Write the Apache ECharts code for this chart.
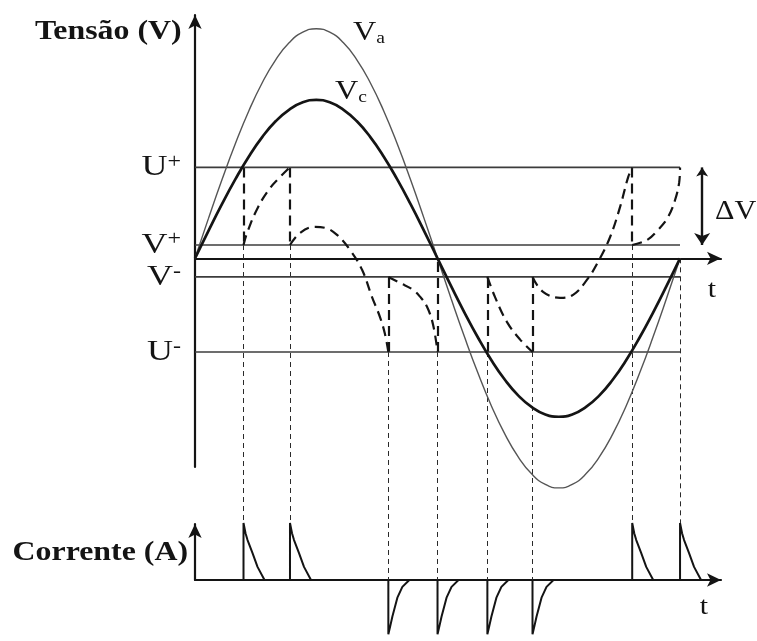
<!DOCTYPE html>
<html>
<head>
<meta charset="utf-8">
<script src="https://cdn.jsdelivr.net/npm/echarts@6/dist/echarts.min.js"></script>
<style>
  html, body { margin: 0; padding: 0; background: #ffffff; }
  #chart { width: 757px; height: 641px; }
</style>
</head>
<body>
<div id="chart"></div>
<script>
// Phase angle over one period (degrees)
const theta = [0, 10, 20, 30, 40, 50, 60, 70, 80, 90, 100, 110, 120, 130, 140, 150, 160, 170, 180,
               190, 200, 210, 220, 230, 240, 250, 260, 270, 280, 290, 300, 310, 320, 330, 340, 350, 360];
// Supply voltage Va
const va = [0, 1.74, 3.42, 5, 6.43, 7.66, 8.66, 9.4, 9.85, 10, 9.85, 9.4, 8.66, 7.66, 6.43, 5, 3.42, 1.74, 0,
            -1.74, -3.42, -5, -6.43, -7.66, -8.66, -9.4, -9.85, -10, -9.85, -9.4, -8.66, -7.66, -6.43, -5, -3.42, -1.74, 0];
// Capacitor voltage Vc
const vc = [0, 1.2, 2.36, 3.45, 4.44, 5.29, 5.98, 6.48, 6.8, 6.9, 6.8, 6.48, 5.98, 5.29, 4.44, 3.45, 2.36, 1.2, 0,
            -1.2, -2.36, -3.45, -4.44, -5.29, -5.98, -6.48, -6.8, -6.9, -6.8, -6.48, -5.98, -5.29, -4.44, -3.45, -2.36, -1.2, 0];

// Threshold levels
const levelNames = ['U', 'V', 'V', 'U'];
const levelSigns = ['+', '+', '-', '-'];
const levelValues = [3.96, 0.58, -0.81, -4.08];

// Dashed waveform between switching instants: [angle, voltage]
const segB = [[36, 0.58], [38.6, 1.1], [46.8, 2.23], [55.7, 3.06], [63.1, 3.54], [68.3, 3.85], [70.5, 3.96]];
const segC = [[70.5, 0.58], [78, 1.11], [89, 1.37], [96.5, 1.33], [105.4, 1.02], [115, 0.37],
              [124, -0.5], [131.4, -1.69], [137.3, -2.56], [141, -3.3], [143.5, -4.08]];
const segD = [[143.5, -0.81], [152.2, -1.07], [161.8, -1.37], [167, -1.67], [172.2, -2.11], [176.7, -2.89], [180, -4.08]];
const segF = [[217, -0.81], [222.7, -1.69], [231.6, -2.78], [241.3, -3.54], [250.5, -4.08]];
const segG = [[250.5, -0.81], [258.3, -1.46], [271, -1.72], [280.6, -1.59], [291, -0.93], [299.2, -0.15],
              [308.1, 0.93], [315.5, 2.24], [321.5, 3.54], [324.5, 3.96]];
const segH = [[324.5, 0.58], [335.6, 0.8], [343.7, 1.24], [351.1, 1.8], [356.3, 2.54], [359.3, 3.28], [360, 3.96]];
const dashedSegments = [segB, segC, segD, segF, segG, segH];

// Vertical jumps of the dashed waveform
const jumpTimes = [36, 70.5, 143.5, 180, 217, 250.5, 324.5];
const jumpFrom = [3.96, 3.96, -4.08, -4.08, -4.08, -4.08, 3.96];
const jumpTo = [0.58, 0.58, -0.81, 0, -0.81, -0.81, 0.58];

// Current pulses
const pulseTimes = [36, 70.5, 143.5, 180, 217, 250.5, 324.5, 360];
const pulseSign = [1, 1, -1, -1, -1, -1, 1, 1];
const guideStart = [0.58, 0.58, -4.08, -4.08, -4.08, -4.08, 0.58, 0];
const pulseDt = [0, 0, 1.5, 3, 6.7, 10.4, 15.6];
const posPulse = [0, 1, 0.82, 0.7, 0.47, 0.23, 0];
const negPulse = [0, -0.95, -0.8, -0.64, -0.31, -0.12, 0];

// Delta-V marker
const deltaT = 376.4;

const serif = "'Liberation Serif', 'Times New Roman', 'DejaVu Serif', serif";
const ink = '#141414';

const chart = echarts.init(document.getElementById('chart'), null, { renderer: 'canvas' });

function bareAxis(extra) {
  return Object.assign({
    type: 'value',
    axisTick: { show: false },
    axisLabel: { show: false },
    splitLine: { show: false },
    axisLine: {
      show: true, onZero: true,
      symbol: ['none', 'arrow'], symbolSize: [10, 14],
      lineStyle: { color: ink, width: 2.2 }
    }
  }, extra);
}

const series = [];

levelValues.forEach(function (v) {
  series.push({
    type: 'line', xAxisIndex: 0, yAxisIndex: 0, symbol: 'none', silent: true, clip: false,
    data: [[0, v], [360, v]],
    lineStyle: { color: '#3c3c3c', width: 1.7 }
  });
});

series.push({
  type: 'line', xAxisIndex: 0, yAxisIndex: 0, symbol: 'none', smooth: true, clip: false,
  data: theta.map(function (t, i) { return [t, va[i]]; }),
  lineStyle: { color: '#555555', width: 1.4 }
});
series.push({
  type: 'line', xAxisIndex: 0, yAxisIndex: 0, symbol: 'none', smooth: true, clip: false,
  data: theta.map(function (t, i) { return [t, vc[i]]; }),
  lineStyle: { color: ink, width: 2.7 }
});

dashedSegments.forEach(function (seg) {
  series.push({
    type: 'line', xAxisIndex: 0, yAxisIndex: 0, symbol: 'none', smooth: 0.4, clip: false,
    data: seg,
    lineStyle: { color: ink, width: 2.2, type: [10, 6] }
  });
});

series.push({
  type: 'lines', coordinateSystem: 'cartesian2d', xAxisIndex: 0, yAxisIndex: 0, clip: false,
  data: jumpTimes.map(function (t, i) { return { coords: [[t, jumpFrom[i]], [t, jumpTo[i]]] }; }),
  lineStyle: { color: ink, width: 2.2, type: [10, 6], opacity: 1 }
});

series.push({
  type: 'lines', coordinateSystem: 'cartesian2d', xAxisIndex: 0, yAxisIndex: 0, clip: false,
  symbol: ['arrow', 'arrow'], symbolSize: [9, 12],
  data: [{ coords: [[deltaT, levelValues[0]], [deltaT, levelValues[1]]] }],
  lineStyle: { color: ink, width: 2.4, opacity: 1 }
});

pulseTimes.forEach(function (t, i) {
  const shape = pulseSign[i] > 0 ? posPulse : negPulse;
  series.push({
    type: 'line', xAxisIndex: 1, yAxisIndex: 1, symbol: 'none', clip: false,
    data: pulseDt.map(function (d, k) { return [t + d, shape[k]]; }),
    lineStyle: { color: ink, width: 2 }
  });
});

const option = {
  animation: false,
  backgroundColor: '#ffffff',
  grid: [
    { left: 195, right: 36, top: 15, bottom: 174 },
    { left: 195, right: 36, top: 524, bottom: 61 }
  ],
  xAxis: [
    bareAxis({ gridIndex: 0, min: 0, max: 390.4 }),
    bareAxis({ gridIndex: 1, min: 0, max: 390.4 })
  ],
  yAxis: [
    bareAxis({ gridIndex: 0, min: -9.09, max: 10.6 }),
    bareAxis({ gridIndex: 1, min: 0, max: 0.982 })
  ],
  series: series
};

chart.setOption(option);

// Guide lines run from the voltage panel down to each current pulse
const voltagePanel = { xAxisIndex: 0, yAxisIndex: 0 };
const currentPanel = { xAxisIndex: 1, yAxisIndex: 1 };
const guideData = pulseTimes.map(function (t, i) {
  const endPx = chart.convertToPixel(currentPanel, [t, pulseSign[i] > 0 ? posPulse[1] : 0]);
  const endVal = chart.convertFromPixel(voltagePanel, endPx)[1];
  return { coords: [[t, guideStart[i]], [t, endVal]] };
});
series.push({
  type: 'lines', coordinateSystem: 'cartesian2d', xAxisIndex: 0, yAxisIndex: 0, clip: false,
  data: guideData,
  lineStyle: { color: '#2a2a2a', width: 1, type: [5, 4], opacity: 1 }
});

function label(x, y, text, size, opts) {
  opts = opts || {};
  const small = Math.round(size * (opts.ratio || 0.6));
  return {
    type: 'text', x: x, y: y, scaleX: opts.scaleX || 1.15, silent: true,
    style: {
      text: text, fill: ink,
      font: (opts.bold ? 'bold ' : '') + size + 'px ' + serif,
      align: opts.align || 'left', verticalAlign: 'middle',
      rich: {
        sup: { fontSize: small, fontFamily: serif, verticalAlign: 'top', fill: ink },
        sub: { fontSize: small, fontFamily: serif, verticalAlign: 'bottom', fill: ink }
      }
    }
  };
}

const axisX0 = chart.convertToPixel(voltagePanel, [0, 0])[0];
const graphics = [
  label(35, 32, 'Tensão (V)', 27, { bold: true, scaleX: 1.18 }),
  label(188, 553, 'Corrente (A)', 27, { bold: true, align: 'right', scaleX: 1.18 }),
  label(353, 33, 'V{sub|a}', 28),
  label(335, 92, 'V{sub|c}', 28),
  label(715, 212, 'ΔV', 27, { scaleX: 1.12 }),
  label(712, 290, 't', 26, { align: 'center' }),
  label(704, 607, 't', 26, { align: 'center' })
];
levelValues.forEach(function (v, i) {
  const y = chart.convertToPixel(voltagePanel, [0, v])[1];
  graphics.push(label(axisX0 - 14, y, levelNames[i] + '{sup|' + levelSigns[i] + '}', 30,
    { align: 'right', scaleX: 1.2, ratio: 0.65 }));
});

chart.setOption({ series: series, graphic: graphics });
</script>
</body>
</html>
